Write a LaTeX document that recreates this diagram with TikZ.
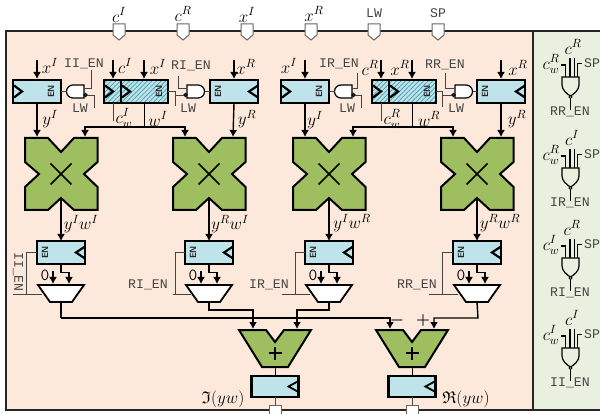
\RequirePackage{fix-cm}
\documentclass[tikz,border=0pt]{standalone}
\usepackage{amssymb}
\usepackage{fontspec}
\usetikzlibrary{arrows.meta,patterns.meta}
\newfontfamily\labfont{Liberation Mono}
\definecolor{peach}{HTML}{FDE9DC}
\definecolor{panel}{HTML}{E9F0DF}
\definecolor{regblue}{HTML}{BFE3EA}
\definecolor{multgreen}{HTML}{9FBE60}
\definecolor{hatchc}{HTML}{3E9DAE}
\definecolor{thing}{HTML}{444444}
\tikzset{
  wire/.style={line width=1.4pt,black},
  awire/.style={wire,-{Latex[length=7pt,width=8pt]}},
  thin wire/.style={line width=0.8pt,thing},
  regbox/.style={draw=black,line width=2.2pt,fill=regblue,inner sep=0pt,outer sep=0pt,minimum height=23pt},
  hatchbox/.style={regbox,preaction={fill=regblue},pattern={Lines[angle=45,distance=3.2pt,line width=0.7pt]},pattern color=hatchc},
  clk/.style={line width=2.2pt,black,fill=none,line join=miter},
  en/.style={font=\fontsize{9}{10}\sffamily\bfseries,text=black!85,rotate=90,inner sep=0pt},
  mth/.style={font=\fontsize{17}{19}\selectfont,inner sep=0pt},
  lab/.style={font=\fontsize{13.2}{15}\labfont,text=thing,inner sep=0pt},
  signlab/.style={font=\fontsize{16}{18}\selectfont\boldmath,inner sep=0pt},
  opshape/.style={draw=black,line width=2pt,fill=multgreen,line join=miter},
  muxshape/.style={draw=black,line width=1.8pt,fill=white,line join=miter},
  gateshape/.style={draw=black,line width=1.2pt,fill=white},
  portshape/.style={draw=black!60,line width=1pt,fill=white},
}
\newcommand{\clkLx}[1]{\draw[clk] (#1,85.5) -- (#1+8,91.5) -- (#1,97.5);}
\newcommand{\clkR}[1]{\draw[clk] ([yshift=-6pt]#1.east) -- ++(-9,-6) -- ++(9,-6);}
% multiplier: name, centre x
\newcommand{\Mult}[2]{\begin{scope}[shift={(#2,174)}]
  \draw[opshape] (-36,-36) -- (-13,-36) -- (0,-22) -- (13,-36) -- (36.5,-36) -- (36.5,-12) -- (23,0) -- (36.5,13) -- (36.5,36) -- (13,36) -- (0,24) -- (-13,36) -- (-36,36) -- (-36,13) -- (-22,0) -- (-36,-12) -- cycle;
  \draw[line width=1.5pt] (-10.5,-10.5) -- (10.5,10.5) (-10.5,10.5) -- (10.5,-10.5);
  \coordinate (#1-a) at (-24,-37); \coordinate (#1-b) at (24,-37); \coordinate (#1-o) at (0,24);
\end{scope}}
% mux: name, centre x
\newcommand{\Mux}[2]{\begin{scope}[shift={(#2,285)}]
  \draw[muxshape] (-23,0) -- (23,0) -- (11,17) -- (-11,17) -- cycle;
  \coordinate (#1-a) at (-8,-1); \coordinate (#1-b) at (8,-1); \coordinate (#1-o) at (0,17);
\end{scope}}
% adder: name, centre x
\newcommand{\Adder}[2]{\begin{scope}[shift={(#2,330)}]
  \draw[opshape] (-36,0) -- (-9,0) -- (0,12) -- (9,0) -- (36,0) -- (13,37) -- (-13,37) -- cycle;
  \draw[line width=1.6pt] (-6.5,23) -- (6.5,23) (0,16.5) -- (0,29.5);
  \coordinate (#1-a) at (-22,-1); \coordinate (#1-b) at (22,-1); \coordinate (#1-o) at (0,37);
\end{scope}}
% gate with round side to the left
\newcommand{\GateL}[2]{\begin{scope}[shift={(#2,85)}]
  \draw[gateshape] (18,0) -- (7,0) arc[start angle=270,end angle=90,radius=6.5] -- (18,13) -- cycle;
  \draw[gateshape] (19.5,10) circle[radius=1.5];
  \coordinate (#1-o) at (0.5,6.5); \coordinate (#1-a) at (18,3.5); \coordinate (#1-b) at (21,10);
\end{scope}}
% gate with round side to the right
\newcommand{\GateR}[2]{\begin{scope}[shift={(#2,85)}]
  \draw[gateshape] (0,0) -- (11,0) arc[start angle=-90,end angle=90,radius=6.5] -- (0,13) -- cycle;
  \draw[gateshape] (-1.5,10) circle[radius=1.5];
  \coordinate (#1-o) at (17.5,6.5); \coordinate (#1-a) at (0,3.5); \coordinate (#1-b) at (-3,10);
\end{scope}}
% panel gate: name, top y, c_w text, c text, output text, c x
\newcommand{\PGate}[6]{\begin{scope}[shift={(0,#2)}]
  \draw[black,line width=1.1pt] (561,-12) -- (565.7,-12) -- (565.7,0) (570,-19) -- (570,0) (574.3,-19) -- (574.3,0) (581.5,-13.5) -- (577.7,-13.5) -- (577.7,0);
  \draw[line width=1.2pt,fill=panel] (562,0) -- (579,0) -- (579,8) .. controls (579,13) and (574,17) .. (570.5,19) .. controls (567,17) and (562,13) .. (562,8) -- cycle;
  \draw[line width=1pt,fill=panel] (570.5,20) circle[radius=1.5];
  \draw[line width=1.1pt] (570.5,21.5) -- (570.5,33);
  \node[mth] (#1w) at (551,-13) {#3};
  \node[mth] (#1c) at (#6,-30) {#4};
  \node[lab] (#1s) at (592,-14) {SP};
  \node[lab] (#1t) at (570,35) {#5};
\end{scope}}
\begin{document}
\begin{tikzpicture}[x=1pt,y=-1pt]
\useasboundingbox (0,0) rectangle (600,414);
\clip (0,0) rectangle (600,414);
\fill[white] (0,0) rectangle (600,414);
\fill[peach] (6,31) rectangle (533,410);
\fill[panel] (533,31) rectangle (600,410);
\draw[line width=1.2pt,black!85] (600,31) -- (6,31) -- (6,410) -- (600,410);
\draw[line width=1.2pt,black!85] (533,31) -- (533,410);

% top ports
\foreach \px in {119,183,247,311,374,438}{
  \draw[portshape] (\px-6,24) -- (\px+6,24) -- (\px+6,35) -- (\px,40) -- (\px-6,35) -- cycle;
}
\node[mth] (tc1) at (119,15) {$c^I$};
\node[mth] (tc2) at (183,14) {$c^R$};
\node[mth] (tc3) at (247,15) {$x^I$};
\node[mth] (tc4) at (314,14) {$x^R$};
\node[lab] (tc5) at (374,13) {LW};
\node[lab] (tc6) at (438,13) {SP};

% first row registers, left block
\node[regbox,minimum width=48pt] (r1) at (37,91.5) {};
\node[hatchbox,minimum width=17pt] (r2c) at (112.5,91.5) {};
\node[hatchbox,minimum width=47pt] (r2d) at (144.5,91.5) {};
\node[regbox,minimum width=48pt] (r3) at (234,91.5) {};
\clkLx{14} \clkLx{105} \clkLx{122}
\clkR{r3}
\node[en] (e1) at (51,91.5) {EN};
\node[en] (e2) at (159,91.5) {EN};
\node[en] (e3) at (218,91.5) {EN};
% right block
\node[regbox,minimum width=48pt] (r4) at (305,91.5) {};
\node[hatchbox,minimum width=17pt] (r5c) at (380.5,91.5) {};
\node[hatchbox,minimum width=47pt] (r5d) at (412.5,91.5) {};
\node[regbox,minimum width=48pt] (r6) at (501,91.5) {};
\clkLx{282} \clkLx{373} \clkLx{390}
\clkR{r6}
\node[en] (e4) at (319,91.5) {EN};
\node[en] (e5) at (427,91.5) {EN};
\node[en] (e6) at (485,91.5) {EN};

% gates
\GateL{g1}{66}
\GateR{g2}{187}
\GateL{g3}{334}
\GateR{g4}{455}

% enable wiring
\coordinate (t1) at (91,70); \coordinate (l1) at (94,108);
\draw[thin wire] (g1-o) -- (r1.east);
\draw[thin wire] (t1) |- (g1-a);
\draw[thin wire] (g1-b) -| (l1);
\coordinate (t2) at (178,76); \coordinate (l2) at (175,106);
\draw[thin wire] (g2-o) -- (r3.west);
\draw[thin wire] (t2) |- (g2-a);
\draw[thin wire] (r2d.east) -- (175,91.5);
\draw[thin wire] (175,91.5) -- (l2);
\draw[thin wire] (175,95) -- (g2-b);
\coordinate (t3) at (357,73); \coordinate (l3) at (361,108);
\draw[thin wire] (g3-o) -- (r4.east);
\draw[thin wire] (t3) |- (g3-a);
\draw[thin wire] (g3-b) -| (l3);
\coordinate (t4) at (445,73); \coordinate (l4) at (442,107);
\draw[thin wire] (g4-o) -- (r6.west);
\draw[thin wire] (t4) |- (g4-a);
\draw[thin wire] (r5d.east) -- (442,91.5);
\draw[thin wire] (442,91.5) -- (l4);
\draw[thin wire] (442,95) -- (g4-b);

% inputs
\foreach \nd/\ix in {r1/37,r2c/113,r2d/144,r3/234,r4/305,r5c/381,r5d/412,r6/501}{
  \coordinate (in\nd) at (\ix,60);
  \draw[awire] (in\nd) -- (\ix,79);
}

% multipliers
\Mult{m1}{61}
\Mult{m2}{209}
\Mult{m3}{329}
\Mult{m4}{477}

% register to multiplier
\draw[awire] (r1.south) -- (m1-a);
\draw[awire] (r3.south) -- (m2-b);
\draw[wire] (r2d.south) -- ++(0,24) coordinate (j1);
\draw[awire] (j1) -| (m1-b);
\draw[awire] (j1) -| (m2-a);
\draw[thin wire] (r2c.south) ++(1,0) -- ++(0,18);
\draw[awire] (r4.south) -- (m3-a);
\draw[awire] (r6.south) -- (m4-b);
\draw[wire] (r5d.south) -- ++(0,24) coordinate (j2);
\draw[awire] (j2) -| (m3-b);
\draw[awire] (j2) -| (m4-a);
\draw[thin wire] (r5c.south) ++(1,0) -- ++(0,18);

% second row registers
\foreach \nd/\cx in {q1/61,q2/209,q3/329,q4/477}{
  \node[regbox,minimum width=48pt] (\nd) at (\cx,252.5) {};
  \clkR{\nd}
  \node[en] (e\nd) at (\cx-16,252.5) {EN};
}
\draw[awire] (m1-o) -- (q1.north);
\draw[awire] (m2-o) -- (q2.north);
\draw[awire] (m3-o) -- (q3.north);
\draw[awire] (m4-o) -- (q4.north);

% muxes
\Mux{x1}{61}
\Mux{x2}{209}
\Mux{x3}{329}
\Mux{x4}{477}
\foreach \mx/\qq in {x1/q1,x2/q2,x3/q3,x4/q4}{
  \draw[awire] (\qq.south) -- ++(0,8.5) -| (\mx-b);
  \draw[awire] (\mx-a) ++(0,-12.5) coordinate (z\mx) -- (\mx-a);
  \node[font=\fontsize{17}{18}\ttfamily,text=black,inner sep=0pt] (zero\mx) at ([xshift=-8pt,yshift=8.5pt]\mx-a) {0};
}

% mux enable wires
\draw[thin wire] (q1.west) -- (26,252.5) -- (26,294);
\draw[thin wire] (13,294) -- (42,294);
\draw[thin wire] (q2.west) -- (175,252.5) -- (175,294);
\draw[thin wire] (173,294) -- (191,294);
\draw[thin wire] (q3.west) -- (295,252.5) -- (295,294);
\draw[thin wire] (282,294) -- (310,294);
\draw[thin wire] (q4.west) -- (442,252.5) -- (442,294);
\draw[thin wire] (429,294) -- (458,294);

% adders and result registers
\Adder{a1}{275}
\Adder{a2}{412}
\node[regbox,minimum width=47pt,minimum height=21pt] (o1) at (275,386.5) {};
\node[regbox,minimum width=47pt,minimum height=21pt] (o2) at (412,386.5) {};
\draw[clk,line width=1.8pt] ([yshift=-5.5pt]o1.east) -- ++(-10,-5.5) -- ++(10,-5.5);
\draw[clk,line width=1.8pt] ([yshift=-5.5pt]o2.east) -- ++(-10,-5.5) -- ++(10,-5.5);
\draw[wire,line width=1pt] (a1-o) -- (o1.north);
\draw[wire,line width=1pt] (a2-o) -- (o2.north);
\draw[portshape] (269,405) rectangle (281,418);
\draw[portshape] (406,405) rectangle (418,418);
\draw[wire,line width=1pt,black!70] (o1.south) -- (275,405);
\draw[wire,line width=1pt,black!70] (o2.south) -- (412,405);

% mux to adder
\draw[wire] (x1-o) -- (61,318);
\draw[awire] (61,318) -| (a2-a);
\draw[awire] (x2-o) -- (209,310) -| (a1-a);
\draw[awire] (x3-o) -- (329,310) -| (a1-b);
\draw[awire] (x4-o) -- (478,318) -| (a2-b);

% labels
\node[mth] (l1a) at (50,66) {$x^I$};
\node[mth] (l1b) at (125,66) {$c^I$};
\node[mth] (l1c) at (158,67) {$x^I$};
\node[mth] (l1d) at (246,67) {$x^R$};
\node[mth] (l1e) at (289,66) {$x^I$};
\node[mth] (l1f) at (370,68) {$c^R$};
\node[mth] (l1g) at (400,68) {$x^R$};
\node[mth] (l1h) at (518,68) {$x^R$};
\node[lab] (n1) at (84,64) {II\_EN};
\node[lab] (n2) at (191,66) {RI\_EN};
\node[lab] (n3) at (339,64) {IR\_EN};
\node[lab] (n4) at (445,65) {RR\_EN};
\node[lab] (w1) at (80,108) {LW};
\node[lab] (w2) at (188,108) {LW};
\node[lab] (w3) at (347,108) {LW};
\node[lab] (w4) at (456,108) {LW};
\node[mth] (y1) at (50,119) {$y^I$};
\node[mth] (y2) at (124,118) {$c_w^I$};
\node[mth] (y3) at (158,119) {$w^I$};
\node[mth] (y4) at (247,119) {$y^R$};
\node[mth] (y5) at (315,120) {$y^I$};
\node[mth] (y6) at (392,119) {$c_w^R$};
\node[mth] (y7) at (429,119) {$w^R$};
\node[mth] (y8) at (517,119) {$y^R$};
\node[mth] (p1) at (81,224) {$y^Iw^I$};
\node[mth] (p2) at (230,224) {$y^Rw^I$};
\node[mth] (p3) at (352,223) {$y^Iw^R$};
\node[mth] (p4) at (500,223) {$y^Rw^R$};
\node[lab,rotate=-90] (s1) at (18,272) {II\_EN};
\node[lab] (s2) at (148,285) {RI\_EN};
\node[lab] (s3) at (269,285) {IR\_EN};
\node[lab] (s4) at (417,285) {RR\_EN};
\node[signlab] (mn) at (397,320) {$-$};
\node[signlab] (pl) at (423,320) {$+$};
\node[mth] (im) at (223,399) {$\mathfrak{I}(yw)$};
\node[mth] (re) at (466,399) {$\mathfrak{R}(yw)$};

% panel
\PGate{pa}{77}{$c_w^R$}{$c^R$}{RR\_EN}{573}
\PGate{pb}{168}{$c_w^R$}{$c^I$}{IR\_EN}{572}
\PGate{pc}{258}{$c_w^I$}{$c^R$}{RI\_EN}{572}
\PGate{pd}{348}{$c_w^I$}{$c^I$}{II\_EN}{572}
\end{tikzpicture}
\end{document}
